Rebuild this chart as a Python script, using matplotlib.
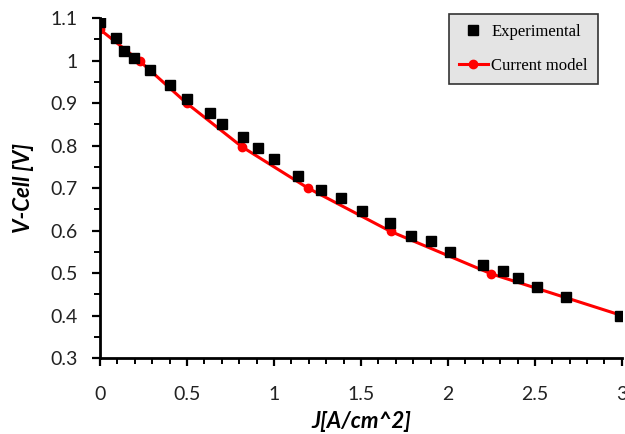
import matplotlib
matplotlib.use("Agg")
import matplotlib.pyplot as plt
from matplotlib.ticker import MultipleLocator

exp_j = [0.0, 0.09, 0.14, 0.195, 0.29, 0.40, 0.50, 0.63, 0.70, 0.82, 0.91, 1.0, 1.14,
         1.27, 1.385, 1.506, 1.667, 1.787, 1.90, 2.01, 2.20, 2.316, 2.40, 2.51, 2.68, 2.99]
exp_v = [1.09, 1.052, 1.022, 1.006, 0.978, 0.942, 0.909, 0.876, 0.85, 0.82, 0.794, 0.768, 0.728,
         0.695, 0.676, 0.646, 0.618, 0.587, 0.575, 0.549, 0.519, 0.505, 0.488, 0.467, 0.444, 0.399]

model_j = [0.0, 0.23, 0.5, 0.816, 1.195, 1.67, 2.25, 3.0]
model_v = [1.073, 0.998, 0.899, 0.797, 0.700, 0.598, 0.498, 0.400]

xticks = [0, 0.5, 1, 1.5, 2, 2.5, 3]
xticklabels = ["0", "0.5", "1", "1.5", "2", "2.5", "3"]
yticks = [0.3, 0.4, 0.5, 0.6, 0.7, 0.8, 0.9, 1.0, 1.1]
yticklabels = ["0.3", "0.4", "0.5", "0.6", "0.7", "0.8", "0.9", "1", "1.1"]

fig = plt.figure(figsize=(6.25, 4.34), dpi=100)
ax = fig.add_axes([0.16, 0.175, 0.835, 0.7835])

ax.plot(model_j, model_v, color="#ff0000", lw=2.2, marker="o", ms=6,
        label="Current model", zorder=2)
ax.plot(exp_j, exp_v, ls="none", marker="s", ms=7.5, color="black",
        label="Experimental", zorder=3)

ax.set_xlim(0, 3)
ax.set_ylim(0.3, 1.1)
ax.set_xticks(xticks)
ax.set_xticklabels(xticklabels)
ax.set_yticks(yticks)
ax.set_yticklabels(yticklabels)
ax.xaxis.set_minor_locator(MultipleLocator(0.1))
ax.yaxis.set_minor_locator(MultipleLocator(0.05))

for s in ["top", "right"]:
    ax.spines[s].set_visible(False)
for s in ["left", "bottom"]:
    ax.spines[s].set_linewidth(2)
    ax.spines[s].set_color("black")

ax.tick_params(axis="both", which="major", direction="out", length=6, width=1.6,
               labelsize=14, colors="black")
ax.tick_params(axis="x", which="major", pad=14)
ax.tick_params(axis="y", which="major", pad=10)
ax.tick_params(axis="both", which="minor", direction="out", length=4, width=1.4)
for lab in ax.get_xticklabels() + ax.get_yticklabels():
    lab.set_fontfamily("Lato")
    lab.set_color("#222222")

ax.set_xlabel("J[A/cm^2]", fontsize=16, fontweight="bold", fontstyle="italic",
              family="Lato", labelpad=6)
ax.set_ylabel("V-Cell [V]", fontsize=16, fontweight="bold", fontstyle="italic",
              family="Lato", labelpad=12)

handles, labels = ax.get_legend_handles_labels()
leg = ax.legend(handles[::-1], labels[::-1], loc="upper right",
                bbox_to_anchor=(0.954, 1.012), borderaxespad=0,
                prop={"family": "Liberation Serif", "size": 12},
                frameon=True, fancybox=False, edgecolor="#333333",
                facecolor="#e4e4e4", framealpha=1, handlelength=1.75,
                borderpad=0.6, labelspacing=1.1, handletextpad=0.2)
leg.get_frame().set_linewidth(1.2)

fig.savefig("out.png", dpi=100)
